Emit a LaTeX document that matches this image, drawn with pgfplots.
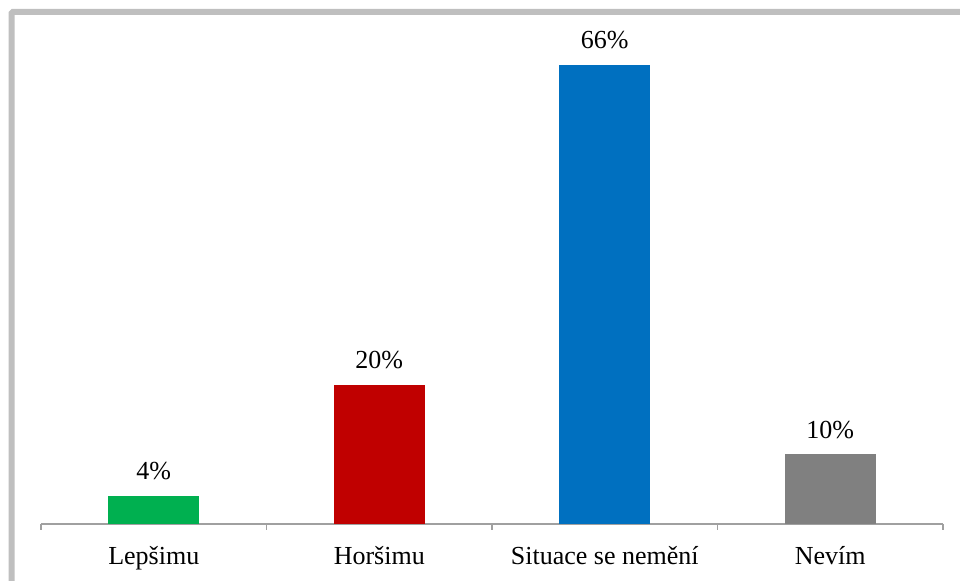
\documentclass[border=0pt]{standalone}
\usepackage{fontspec}
\setmainfont{Liberation Serif}
\usepackage{pgfplots}
\pgfplotsset{compat=1.18}

\definecolor{cGreen}{HTML}{00B050}
\definecolor{cRed}{HTML}{C00000}
\definecolor{cBlue}{HTML}{0070C0}
\definecolor{cGray}{HTML}{808080}
\definecolor{frameGray}{HTML}{BFBFBF}
\definecolor{axisGray}{HTML}{A0A0A0}
\newcommand\lf{\fontsize{19.5pt}{23pt}\selectfont}

\begin{document}
\begin{tikzpicture}
\useasboundingbox (0,0) rectangle (720pt,435.75pt);
\draw[frameGray, line width=4.5pt, rounded corners=1pt] (8.625pt,-10pt) -- (8.625pt,426.75pt) -- (740pt,426.75pt);
\begin{axis}[
    at={(30.75pt,42.75pt)}, anchor=south west,
    scale only axis, width=676.5pt, height=364.875pt,
    xmin=-0.5, xmax=3.5, ymin=0, ymax=70,
    axis x line=bottom, axis y line=none,
    x axis line style={-, axisGray, line width=0.8pt},
    xtick={0,1,2,3},
    xticklabels={Lepšimu, Horšimu, Situace se nemění, Nevím},
    major tick length=0pt,
    minor xtick={-0.5,0.5,1.5,2.5,3.5},
    minor tick length=4.5pt,
    tick align=outside,
    minor tick style={axisGray, line width=0.8pt},
    xticklabel style={font=\lf, text=black, yshift=-13.5pt},
    ybar, bar width=68.25pt, bar shift=0pt,
    nodes near coords={\pgfmathprintnumber{\pgfplotspointmeta}\%},
    nodes near coords style={font=\lf, text=black, anchor=south, yshift=8.5pt},
    /pgf/number format/assume math mode=true,
    clip=false,
]
\addplot[draw=none, fill=cGreen] coordinates {(0,4)};
\addplot[draw=none, fill=cRed] coordinates {(1,20)};
\addplot[draw=none, fill=cBlue] coordinates {(2,66)};
\addplot[draw=none, fill=cGray] coordinates {(3,10)};
\end{axis}
\end{tikzpicture}
\end{document}
